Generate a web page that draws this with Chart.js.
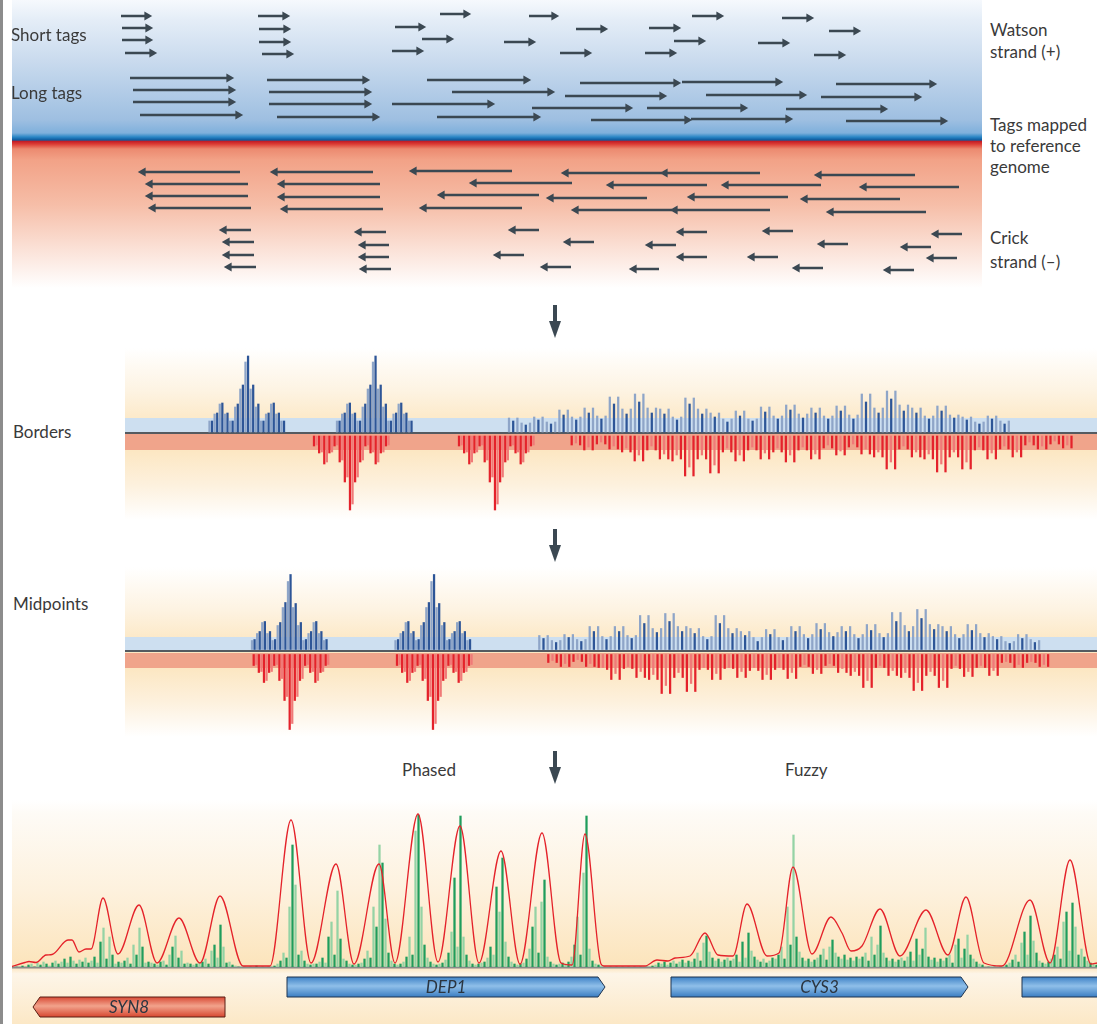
<!DOCTYPE html>
<html>
<head>
<meta charset="utf-8">
<script src="https://cdn.jsdelivr.net/npm/chart.js@4.4.0/dist/chart.umd.min.js"></script>
<style>
  html, body { margin: 0; padding: 0; background: #fff; }
  #page { position: relative; width: 1112px; height: 1024px; overflow: hidden;
          font-family: Lato, "Open Sans", sans-serif; color: #3a3a3a; }
  #page canvas { position: absolute; }
  .lbl { position: absolute; font-size: 17px; line-height: 22px; white-space: nowrap; }
  .down { position: absolute; }
  #edge { position: absolute; left: 0; top: 0; width: 3px; height: 1024px; background: #8c8c8c; }
</style>
</head>
<body>
<div id="page">
  <div id="edge"></div>
  <canvas id="tags" width="970" height="290" style="left:12px;top:0"></canvas>
  <canvas id="borders" width="972" height="172" style="left:125px;top:348px"></canvas>
  <canvas id="midpoints" width="972" height="170" style="left:125px;top:567px"></canvas>
  <canvas id="nucmap" width="1085" height="224" style="left:12px;top:800px"></canvas>

  <div class="lbl" style="left:11px;top:24px">Short tags</div>
  <div class="lbl" style="left:11px;top:82px">Long tags</div>
  <div class="lbl" style="left:990px;top:19px">Watson<br>strand (+)</div>
  <div class="lbl" style="left:990px;top:114px;line-height:21px">Tags mapped<br>to reference<br>genome</div>
  <div class="lbl" style="left:990px;top:226px;line-height:24px">Crick<br>strand (–)</div>
  <div class="lbl" style="left:13px;top:421px">Borders</div>
  <div class="lbl" style="left:13px;top:593px">Midpoints</div>
  <div class="lbl" style="left:402px;top:759px">Phased</div>
  <div class="lbl" style="left:785px;top:759px">Fuzzy</div>

  <svg class="down" style="left:547px;top:305px" width="16" height="34"><rect x="6" y="0" width="4" height="20" fill="#3b4852"/><polygon points="2,16 14,16 8,33" fill="#3b4852"/></svg>
  <svg class="down" style="left:547px;top:529px" width="16" height="34"><rect x="6" y="0" width="4" height="20" fill="#3b4852"/><polygon points="2,16 14,16 8,33" fill="#3b4852"/></svg>
  <svg class="down" style="left:547px;top:751px" width="16" height="34"><rect x="6" y="0" width="4" height="20" fill="#3b4852"/><polygon points="2,16 14,16 8,33" fill="#3b4852"/></svg>
</div>

<script>
// ----------------- tags : [start, end, lane] in genome coordinates -----------------
const watsonShort = [
  [121,147,16],[122,148,28],[122,148,40],[125,152,53],
  [258,285,16],[259,286,29],[259,286,42],[262,289,54],
  [395,421,27],[422,449,39],[392,419,51],[440,466,14],[504,531,42],[529,554,16],
  [576,603,29],[649,676,28],[692,719,16],[782,809,18],[674,701,41],[758,785,43],
  [829,856,31],[560,587,53],[645,672,53],[814,841,55]
];
const watsonLong = [
  [130,229,78],[133,231,90],[133,231,102],[140,238,115],
  [267,365,80],[269,367,92],[269,367,104],[277,375,117],
  [427,526,80],[452,550,92],[392,490,104],[437,536,117],[532,628,108],
  [580,676,83],[682,778,82],[836,932,84],[565,662,96],[706,802,95],[821,917,97],
  [647,743,108],[786,883,109],[591,687,120],[691,788,119],[846,943,121]
];
const crickLong = [
  [143,240,172],[150,248,184],[150,248,196],[153,251,208],
  [275,373,172],[282,380,184],[282,380,197],[285,383,209],
  [414,512,171],[474,572,183],[442,539,195],[424,522,208],[551,647,198],
  [566,662,173],[665,760,173],[819,915,175],[611,707,185],[726,821,185],[864,959,187],
  [692,788,197],[805,900,199],[576,672,210],[675,770,210],[831,926,212]
];
const crickShort = [
  [224,251,230],[227,254,242],[227,254,255],[229,256,267],
  [359,386,232],[363,389,245],[363,389,257],[364,391,269],
  [513,539,230],[498,524,255],[545,571,267],
  [568,594,242],[650,676,245],[681,707,232],[681,707,257],[634,659,269],
  [767,793,231],[752,778,257],[822,848,244],[797,823,268],
  [905,931,247],[936,962,234],[931,957,258],[888,914,270]
];

// ----------------- borders / midpoints : tag counts per bin -----------------
const PHASED_BIN = 2.57;
const FUZZY_BIN = 4.2;

const bordersWatsonPhasedStart = [209.5, 337];
const bordersWatsonPhased = [
  [11,11,18,19,28,29,18,19,11,11,25,28,43,47,70,76,43,47,25,28,11,11,18,19,28,29,18,19,11,11],
  [11,11,18,19,28,29,18,19,11,11,25,28,43,47,70,76,43,47,25,28,11,11,18,19,28,29,18,19,11,11]
];
const bordersWatsonFuzzyStart = 509;
const bordersWatsonFuzzy = [
  14,11,14,9,7,9,15,12,15,10,8,10,22,17,22,15,12,15,24,19,24,16,13,16,35,28,35,
  23,18,23,38,30,38,24,19,24,23,18,23,15,12,15,34,28,34,23,18,23,19,15,19,13,10,13,
  21,16,21,13,11,13,25,20,25,16,13,16,27,22,27,18,14,18,24,19,24,16,13,16,26,21,26,
  17,13,17,38,30,38,24,19,24,41,33,41,27,21,27,24,19,24,16,13,16,26,21,26,17,14,17,
  15,12,15,10,8,10,16,13,16,11,8,11
];
const bordersCrickPhasedStart = [314, 459];
const bordersCrickPhased = [
  [10,9,17,16,28,26,17,16,10,9,26,24,46,41,74,68,46,41,26,24,10,9,17,16,28,26,17,16,10,9],
  [10,9,17,16,28,26,17,16,10,9,26,24,46,41,74,68,46,41,26,24,10,9,17,16,28,26,17,16,10,9]
];
const bordersCrickFuzzyStart = 571.7;
const bordersCrickFuzzy = [
  9,7,9,14,11,14,8,6,8,13,10,13,
  16,12,16,25,19,25,14,10,14,23,18,23,25,19,23,40,31,40,23,19,23,37,29,37,
  16,12,16,25,19,25,14,11,14,23,17,23,16,12,16,26,19,26,14,11,14,23,18,23,
  12,9,12,19,15,19,11,8,11,18,13,18,21,16,21,33,26,33,13,10,13,21,16,21,
  23,18,23,36,28,36,21,16,21,33,26,33,14,11,14,23,17,23,13,10,13,21,16,21,
  9,6,9,13,10,13,8,5,8,12,9,12
];

const midWatsonPhasedStart = [252, 395.5];
const midWatsonPhased = [
  [9,10,16,18,27,28,16,18,9,10,24,27,42,47,68,75,42,46,24,27,9,10,16,18,27,28,16,18,9,10],
  [9,10,16,18,27,28,16,18,9,10,24,27,42,47,68,75,42,46,24,27,9,10,16,18,27,28,16,18,9,10]
];
const midWatsonFuzzyStart = 539.3;
const midWatsonFuzzy = [
  14,11,14,9,7,9,15,12,15,10,8,10,23,18,23,
  13,10,13,23,18,23,14,11,14,34,26,34,21,17,21,36,28,36,23,18,23,21,16,21,13,10,13,
  34,26,34,21,16,21,18,14,18,12,8,12,20,15,20,12,9,12,23,18,23,15,11,15,26,20,26,
  17,13,17,23,18,23,15,11,15,25,19,25,16,12,16,37,28,37,24,18,23,40,31,40,25,20,25,
  23,18,23,15,11,15,25,19,25,16,12,16,13,10,13,8,6,8,15,11,15,10,7,9
];
const midCrickPhasedStart = [253.7, 397];
const midCrickPhased = [
  [11,10,18,17,28,26,18,17,11,10,26,24,46,42,75,69,46,42,26,24,11,10,18,17,28,26,18,17,11,10],
  [11,10,18,17,28,26,18,17,11,10,26,24,46,42,75,69,46,42,26,24,11,10,18,17,28,26,18,17,11,10]
];
const midCrickFuzzyStart = 548.3;
const midCrickFuzzy = [
  8,6,8,12,9,12,7,5,7,12,9,12,13,
  13,15,25,19,25,14,12,14,23,17,23,25,20,25,39,31,39,23,18,23,37,29,37,15,13,15,
  25,19,25,14,13,14,23,17,23,16,13,16,25,20,25,15,13,15,24,18,24,12,10,12,19,15,19,
  11,9,11,18,14,18,21,17,21,33,26,33,13,11,13,21,16,21,23,18,23,36,28,36,21,17,21,
  33,26,33,14,11,14,22,17,22,13,11,13,21,16,21,8,7,8,13,10,13,8,7,8,12,10,12
];

// ----------------- nucleosome map : midpoint counts per 3-bp bin + smoothed occupancy -----------------
const NUC_BIN = 3;
const nucStart = 12;
const nucCounts = [
  0,0,0,1,0,2,
  3,0,4,2,5,3,1,4,6,3,
  5,8,4,10,6,3,7,5,9,4,
  6,10,4,25,39,8,30,12,3,5,
  4,6,9,3,22,12,39,20,4,5,
  4,3,2,5,6,2,12,20,31,9,16,3,4,3,2,
  3,4,5,8,3,16,22,9,42,20,4,5,2,1,0,
  0,0,0,0,0,1,0,0,0,0,
  0,1,3,6,14,9,60,122,82,12,16,6,3,2,3,
  3,5,9,4,30,45,12,76,28,8,6,3,2,2,3,
  4,8,16,9,60,40,122,104,48,14,6,3,2,3,
  5,10,30,12,136,152,60,22,9,5,3,2,3,
  4,7,14,35,89,20,151,30,12,6,3,2,3,4,
  5,9,20,12,80,55,109,25,10,5,3,2,3,
  4,8,18,40,60,14,65,87,10,5,3,2,3,4,
  3,5,10,22,50,12,94,151,18,6,3,2,1,0,
  0,0,0,0,0,0,0,0,0,0,0,0,0,0,
  0,1,2,4,3,5,2,4,6,3,5,7,4,6,
  5,8,14,6,24,31,15,9,6,8,5,7,9,6,
  8,12,5,25,9,34,16,10,7,5,8,4,6,9,
  8,12,20,8,60,22,132,30,15,9,6,8,5,7,
  9,12,18,7,20,27,14,10,8,12,7,9,6,10,
  8,10,14,6,30,12,22,41,14,9,6,8,5,7,
  9,6,10,15,6,28,12,18,39,10,7,9,5,8,
  6,9,12,4,22,28,9,18,32,12,8,5,3,2,
  0,0,0,0,0,0,
  1,2,4,7,12,5,24,35,12,51,26,14,6,4,
  3,5,8,12,20,8,45,55,16,64,40,12,18,10,6,4,3,2
];
const occupancyX = [12,25,29,36,46,52,68,72,79,86,91,103,118,139,157,179,200,220,243,270,
  291,311,336,354,379,395,418,438,460,479,501,520,542,561,572,585,601,604,645,657,668,675,
  690,705,718,733,747,767,779,793,812,831,842,851,862,880,900,926,948,966,984,1002,1030,1050,1070,1091,1097];
const occupancyY = [0.5,4.5,5.5,4.5,12,12.5,27,27,15,18,18,69,13,62,4,49,4,71,1,1,
  147,4,103,3,103,4,153,5,141,4,116,3,134,4,2,133,3,1,1,7,6,9,
  11,34,12,11,63,11,14,100,13,50,34,16,21,58,11,57,12,70,4,1,67,4,107,3,4];

const genes = ['SYN8', 'DEP1', 'CYS3', ''];
const geneStart = [33, 287, 671, 1022];
const geneEnd = [225, 605, 968, 1106];
const geneStrand = [-1, 1, 1, 1];

// ----------------- styles -----------------
const ARROW = '#3b4852';
const BLUE_DARK = '#2d5597', BLUE_LIGHT = '#8ea5c8';
const RED_DARK = '#e4222b', RED_LIGHT = '#f07a78';
const GREEN_DARK = '#1f9d5c', GREEN_LIGHT = '#94d3a5';

const quiet = {
  responsive: false,
  animation: false,
  events: [],
  layout: { padding: 0 },
  plugins: { legend: { display: false }, tooltip: { enabled: false } }
};

// ----------------- top panel -----------------
function tagPoints(list, headAtEnd) {
  const pts = [];
  list.forEach(([from, to, lane]) => {
    if (headAtEnd) pts.push({ x: from, y: lane }, { x: to, y: lane });
    else pts.push({ x: to, y: lane }, { x: from, y: lane });
    pts.push({ x: null, y: null });
  });
  return pts;
}
function tagDataset(list, headAtEnd) {
  return {
    data: tagPoints(list, headAtEnd),
    showLine: true,
    spanGaps: false,
    borderColor: ARROW,
    borderWidth: 2.6,
    pointStyle: 'triangle',
    pointRotation: headAtEnd ? 90 : -90,
    pointRadius: c => (c.dataIndex % 3 === 1 ? 5.2 : 0),
    pointBackgroundColor: ARROW,
    pointBorderWidth: 0
  };
}

const strandBackground = {
  id: 'strandBackground',
  beforeDraw(chart) {
    const { ctx, chartArea: a } = chart;
    const y = chart.scales.y;
    const stops = [[0, '#f6f9fd'], [20, '#e4edf7'], [60, '#cadbee'], [120, '#9ebfe1'],
      [133, '#7fb0dc'], [137, '#2a86c6'], [140, '#0e5a9d'], [141.5, '#c41f28'], [144, '#dc3b33'],
      [149, '#ec8a70'], [160, '#f2a287'], [205, '#f6bea8'], [250, '#fbe2d8'], [288, '#ffffff']];
    const g = ctx.createLinearGradient(0, a.top, 0, a.bottom);
    stops.forEach(([v, c]) => g.addColorStop((y.getPixelForValue(v) - a.top) / (a.bottom - a.top), c));
    ctx.save();
    ctx.fillStyle = g;
    ctx.fillRect(a.left, a.top, a.right - a.left, a.bottom - a.top);
    ctx.restore();
  }
};

new Chart(document.getElementById('tags'), {
  type: 'scatter',
  data: { datasets: [
    tagDataset(watsonShort, true), tagDataset(watsonLong, true),
    tagDataset(crickLong, false), tagDataset(crickShort, false)
  ] },
  options: Object.assign({}, quiet, {
    scales: {
      x: { type: 'linear', min: 12, max: 982, display: false },
      y: { type: 'linear', min: 0, max: 290, reverse: true, display: false }
    }
  }),
  plugins: [strandBackground]
});

// ----------------- borders & midpoints panels -----------------
function bars(starts, groups, step, sign, base) {
  const out = [];
  groups.forEach((hs, g) => hs.forEach((h, i) => {
    out.push({ x: starts[g] + i * step, y: [sign * base, sign * (base + h)] });
  }));
  return out;
}

const strandBands = {
  id: 'strandBands',
  beforeDraw(chart, args, o) {
    const { ctx, chartArea: a } = chart;
    const g = ctx.createLinearGradient(0, a.top, 0, a.bottom);
    g.addColorStop(0, '#ffffff');
    g.addColorStop(0.25, '#fdf3e2');
    g.addColorStop(0.45, '#fce7c3');
    g.addColorStop(0.6, '#fce7c3');
    g.addColorStop(0.8, '#fdf1de');
    g.addColorStop(1, '#ffffff');
    ctx.save();
    ctx.fillStyle = g;
    ctx.fillRect(a.left, a.top, a.right - a.left, a.bottom - a.top);
    const y = chart.scales.y;
    ctx.fillStyle = '#cddff0';
    ctx.fillRect(a.left, y.getPixelForValue(o.blue[1]), a.right - a.left, y.getPixelForValue(o.blue[0]) - y.getPixelForValue(o.blue[1]));
    ctx.fillStyle = '#f0a48b';
    ctx.fillRect(a.left, y.getPixelForValue(o.red[0]), a.right - a.left, y.getPixelForValue(o.red[1]) - y.getPixelForValue(o.red[0]));
    ctx.fillStyle = '#555a60';
    ctx.fillRect(a.left, y.getPixelForValue(0) - 1, a.right - a.left, 2);
    ctx.restore();
  }
};

function strandPanel(id, p) {
  return new Chart(document.getElementById(id), {
    type: 'bar',
    data: { datasets: [
      { data: bars(p.wPhasedStart, p.wPhased, PHASED_BIN, 1, p.wBase),
        backgroundColor: c => (c.dataIndex % 2 ? BLUE_DARK : BLUE_LIGHT) },
      { data: bars([p.wFuzzyStart], [p.wFuzzy], FUZZY_BIN, 1, p.wBase),
        backgroundColor: c => (c.dataIndex % 3 === 1 ? BLUE_DARK : BLUE_LIGHT) },
      { data: bars(p.cPhasedStart, p.cPhased, PHASED_BIN, -1, p.cBase),
        backgroundColor: c => (c.dataIndex % 2 ? RED_LIGHT : RED_DARK) },
      { data: bars([p.cFuzzyStart], [p.cFuzzy], FUZZY_BIN, -1, p.cBase),
        backgroundColor: c => (c.dataIndex % 3 === 1 ? RED_LIGHT : RED_DARK) }
    ] },
    options: Object.assign({}, quiet, {
      datasets: { bar: { barThickness: 1.6, grouped: false, borderWidth: 0 } },
      scales: {
        x: { type: 'linear', min: 125, max: 1097, offset: false, display: false },
        y: { type: 'linear', min: p.yMin, max: p.yMax, display: false }
      },
      plugins: Object.assign({}, quiet.plugins, { strandBands: { blue: p.blueBand, red: p.redBand } })
    }),
    plugins: [strandBands]
  });
}

strandPanel('borders', {
  wPhasedStart: bordersWatsonPhasedStart, wPhased: bordersWatsonPhased,
  wFuzzyStart: bordersWatsonFuzzyStart, wFuzzy: bordersWatsonFuzzy,
  cPhasedStart: bordersCrickPhasedStart, cPhased: bordersCrickPhased,
  cFuzzyStart: bordersCrickFuzzyStart, cFuzzy: bordersCrickFuzzy,
  wBase: 1, cBase: 3, yMin: -87, yMax: 85, blueBand: [1, 15], redBand: [-1, -17]
});
strandPanel('midpoints', {
  wPhasedStart: midWatsonPhasedStart, wPhased: midWatsonPhased,
  wFuzzyStart: midWatsonFuzzyStart, wFuzzy: midWatsonFuzzy,
  cPhasedStart: midCrickPhasedStart, cPhased: midCrickPhased,
  cFuzzyStart: midCrickFuzzyStart, cFuzzy: midCrickFuzzy,
  wBase: 1.5, cBase: 3.5, yMin: -86, yMax: 84, blueBand: [1, 14], redBand: [-2, -17]
});

// ----------------- nucleosome map -----------------
const nucBackground = {
  id: 'nucBackground',
  beforeDraw(chart) {
    const { ctx, width, height, chartArea: a } = chart;
    const b = a.bottom / height;
    const g = ctx.createLinearGradient(0, 0, 0, height);
    g.addColorStop(0, '#ffffff');
    g.addColorStop(0.06, '#fefbf6');
    g.addColorStop(b * 0.55, '#fdf1dd');
    g.addColorStop(b, '#fce4bb');
    g.addColorStop(b + 0.03, '#fdf5e8');
    g.addColorStop(1, '#fce8c6');
    ctx.save();
    ctx.fillStyle = g;
    ctx.fillRect(0, 0, width, height);
    ctx.fillStyle = '#8a8a8a';
    ctx.fillRect(a.left, a.bottom - 0.5, a.right - a.left, 2);
    ctx.restore();
  },
  afterDraw(chart) {
    const { ctx, chartArea: a } = chart;
    const x = chart.scales.x;
    ctx.save();
    genes.forEach((name, i) => {
      const x0 = x.getPixelForValue(geneStart[i]);
      const x1 = x.getPixelForValue(geneEnd[i]);
      const top = a.bottom + (geneStrand[i] < 0 ? 30 : 10);
      const h = 20, tip = 7;
      ctx.beginPath();
      if (geneStrand[i] > 0) {
        ctx.moveTo(x0, top); ctx.lineTo(x1 - tip, top); ctx.lineTo(x1, top + h / 2);
        ctx.lineTo(x1 - tip, top + h); ctx.lineTo(x0, top + h);
      } else {
        ctx.moveTo(x1, top); ctx.lineTo(x0 + tip, top); ctx.lineTo(x0, top + h / 2);
        ctx.lineTo(x0 + tip, top + h); ctx.lineTo(x1, top + h);
      }
      ctx.closePath();
      const g = ctx.createLinearGradient(0, top, 0, top + h);
      if (geneStrand[i] > 0) {
        g.addColorStop(0, '#3f82c6'); g.addColorStop(0.45, '#8fbfe9'); g.addColorStop(1, '#3b7dc2');
        ctx.strokeStyle = '#1f3550';
      } else {
        g.addColorStop(0, '#d84a35'); g.addColorStop(0.45, '#f2a38c'); g.addColorStop(1, '#d64630');
        ctx.strokeStyle = '#5a1e14';
      }
      ctx.fillStyle = g;
      ctx.fill();
      ctx.lineWidth = 1;
      ctx.stroke();
      if (name) {
        ctx.fillStyle = '#2b3540';
        ctx.font = 'italic 17px Lato, "Open Sans", sans-serif';
        ctx.textAlign = 'center';
        ctx.textBaseline = 'middle';
        ctx.fillText(name, (x0 + x1) / 2, top + h / 2 + 1);
      }
    });
    ctx.restore();
  }
};

new Chart(document.getElementById('nucmap'), {
  type: 'bar',
  data: { datasets: [
    { type: 'line', order: 0,
      data: occupancyX.map((v, i) => ({ x: v, y: occupancyY[i] })),
      borderColor: '#e4222a', borderWidth: 1.3, pointRadius: 0,
      cubicInterpolationMode: 'monotone', clip: 4 },
    { type: 'bar', order: 1,
      data: nucCounts.map((v, i) => ({ x: nucStart + i * NUC_BIN + 1.5, y: v })),
      backgroundColor: c => (c.dataIndex % 2 ? GREEN_DARK : GREEN_LIGHT),
      barThickness: 1.6, grouped: false, borderWidth: 0 }
  ] },
  options: Object.assign({}, quiet, {
    layout: { padding: { bottom: 57 } },
    scales: {
      x: { type: 'linear', min: 12, max: 1097, offset: false, display: false },
      y: { type: 'linear', min: 0, max: 167, display: false }
    }
  }),
  plugins: [nucBackground]
});
</script>
</body>
</html>
